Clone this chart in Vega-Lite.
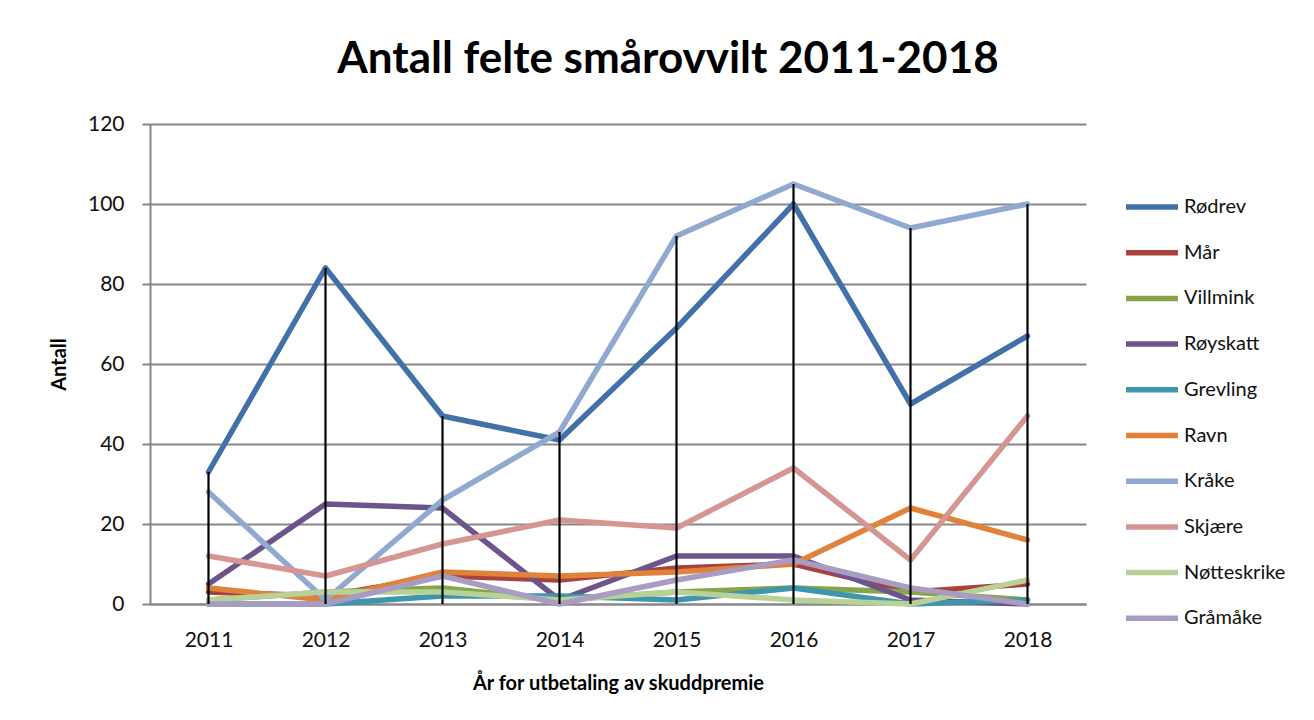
{
  "$schema": "https://vega.github.io/schema/vega-lite/v6.json",
  "autosize": "none",
  "width": 936,
  "height": 480,
  "padding": {"left": 150, "top": 124, "right": 228, "bottom": 116},
  "background": "white",
  "title": {
    "text": "Antall felte smårovvilt 2011-2018",
    "font": "Lato",
    "fontSize": 44,
    "fontWeight": "bold",
    "color": "black",
    "anchor": "middle",
    "dx": 50,
    "baseline": "alphabetic",
    "offset": -4
  },
  "data": {
    "values": [
      {"art": "Rødrev", "year": "2011", "value": 33}, {"art": "Rødrev", "year": "2012", "value": 84}, {"art": "Rødrev", "year": "2013", "value": 47}, {"art": "Rødrev", "year": "2014", "value": 41}, {"art": "Rødrev", "year": "2015", "value": 69}, {"art": "Rødrev", "year": "2016", "value": 100}, {"art": "Rødrev", "year": "2017", "value": 50}, {"art": "Rødrev", "year": "2018", "value": 67},
      {"art": "Mår", "year": "2011", "value": 3}, {"art": "Mår", "year": "2012", "value": 2}, {"art": "Mår", "year": "2013", "value": 7}, {"art": "Mår", "year": "2014", "value": 6}, {"art": "Mår", "year": "2015", "value": 9}, {"art": "Mår", "year": "2016", "value": 10}, {"art": "Mår", "year": "2017", "value": 3}, {"art": "Mår", "year": "2018", "value": 5},
      {"art": "Villmink", "year": "2011", "value": 1}, {"art": "Villmink", "year": "2012", "value": 3}, {"art": "Villmink", "year": "2013", "value": 4}, {"art": "Villmink", "year": "2014", "value": 1}, {"art": "Villmink", "year": "2015", "value": 3}, {"art": "Villmink", "year": "2016", "value": 4}, {"art": "Villmink", "year": "2017", "value": 3}, {"art": "Villmink", "year": "2018", "value": 1},
      {"art": "Røyskatt", "year": "2011", "value": 5}, {"art": "Røyskatt", "year": "2012", "value": 25}, {"art": "Røyskatt", "year": "2013", "value": 24}, {"art": "Røyskatt", "year": "2014", "value": 1}, {"art": "Røyskatt", "year": "2015", "value": 12}, {"art": "Røyskatt", "year": "2016", "value": 12}, {"art": "Røyskatt", "year": "2017", "value": 1}, {"art": "Røyskatt", "year": "2018", "value": 0},
      {"art": "Grevling", "year": "2011", "value": 0}, {"art": "Grevling", "year": "2012", "value": 0}, {"art": "Grevling", "year": "2013", "value": 2}, {"art": "Grevling", "year": "2014", "value": 2}, {"art": "Grevling", "year": "2015", "value": 1}, {"art": "Grevling", "year": "2016", "value": 4}, {"art": "Grevling", "year": "2017", "value": 0}, {"art": "Grevling", "year": "2018", "value": 1},
      {"art": "Ravn", "year": "2011", "value": 4}, {"art": "Ravn", "year": "2012", "value": 1}, {"art": "Ravn", "year": "2013", "value": 8}, {"art": "Ravn", "year": "2014", "value": 7}, {"art": "Ravn", "year": "2015", "value": 8}, {"art": "Ravn", "year": "2016", "value": 10}, {"art": "Ravn", "year": "2017", "value": 24}, {"art": "Ravn", "year": "2018", "value": 16},
      {"art": "Kråke", "year": "2011", "value": 28}, {"art": "Kråke", "year": "2012", "value": 1}, {"art": "Kråke", "year": "2013", "value": 26}, {"art": "Kråke", "year": "2014", "value": 43}, {"art": "Kråke", "year": "2015", "value": 92}, {"art": "Kråke", "year": "2016", "value": 105}, {"art": "Kråke", "year": "2017", "value": 94}, {"art": "Kråke", "year": "2018", "value": 100},
      {"art": "Skjære", "year": "2011", "value": 12}, {"art": "Skjære", "year": "2012", "value": 7}, {"art": "Skjære", "year": "2013", "value": 15}, {"art": "Skjære", "year": "2014", "value": 21}, {"art": "Skjære", "year": "2015", "value": 19}, {"art": "Skjære", "year": "2016", "value": 34}, {"art": "Skjære", "year": "2017", "value": 11}, {"art": "Skjære", "year": "2018", "value": 47},
      {"art": "Nøtteskrike", "year": "2011", "value": 1}, {"art": "Nøtteskrike", "year": "2012", "value": 3}, {"art": "Nøtteskrike", "year": "2013", "value": 3}, {"art": "Nøtteskrike", "year": "2014", "value": 1}, {"art": "Nøtteskrike", "year": "2015", "value": 3}, {"art": "Nøtteskrike", "year": "2016", "value": 1}, {"art": "Nøtteskrike", "year": "2017", "value": 0}, {"art": "Nøtteskrike", "year": "2018", "value": 6},
      {"art": "Gråmåke", "year": "2011", "value": 0}, {"art": "Gråmåke", "year": "2012", "value": 0}, {"art": "Gråmåke", "year": "2013", "value": 7}, {"art": "Gråmåke", "year": "2014", "value": 0}, {"art": "Gråmåke", "year": "2015", "value": 6}, {"art": "Gråmåke", "year": "2016", "value": 11}, {"art": "Gråmåke", "year": "2017", "value": 4}, {"art": "Gråmåke", "year": "2018", "value": 0}
    ]
  },
  "encoding": {
    "x": {
      "field": "year",
      "type": "ordinal",
      "scale": {"type": "point", "padding": 0.5},
      "axis": {
        "title": "År for utbetaling av skuddpremie",
        "labelAngle": 0,
        "ticks": false,
        "labelPadding": 25,
        "titlePadding": 23
      }
    }
  },
  "layer": [
    {
      "mark": {"type": "line", "strokeWidth": 5.5, "strokeJoin": "round", "strokeCap": "round"},
      "encoding": {
        "y": {
          "field": "value",
          "type": "quantitative",
          "scale": {"domain": [0, 120], "nice": false},
          "axis": {
            "title": "Antall",
            "values": [0, 20, 40, 60, 80, 100, 120],
            "grid": true,
            "tickSize": 8,
            "labelPadding": 18,
            "titlePadding": 18
          }
        },
        "color": {
          "field": "art",
          "type": "nominal",
          "sort": ["Rødrev", "Mår", "Villmink", "Røyskatt", "Grevling", "Ravn", "Kråke", "Skjære", "Nøtteskrike", "Gråmåke"],
          "scale": {
            "domain": ["Rødrev", "Mår", "Villmink", "Røyskatt", "Grevling", "Ravn", "Kråke", "Skjære", "Nøtteskrike", "Gråmåke"],
            "range": ["#4271aa", "#a8423f", "#86a44a", "#6e548d", "#3d96ae", "#e0823a", "#90a9d0", "#d49593", "#b8d196", "#a99bc1"]
          },
          "legend": {
            "title": null,
            "orient": "none",
            "legendX": 973,
            "legendY": 54,
            "symbolType": "stroke",
            "symbolSize": 2704,
            "symbolStrokeWidth": 5.5,
            "labelFontSize": 20,
            "labelFont": "Lato",
            "labelColor": "#111",
            "labelOffset": 3,
            "rowPadding": 5.7
          }
        }
      }
    },
    {
      "transform": [{"aggregate": [{"op": "max", "field": "value", "as": "maxv"}], "groupby": ["year"]}],
      "mark": {"type": "rule", "color": "black", "strokeWidth": 2.2},
      "encoding": {
        "y": {"field": "maxv", "type": "quantitative"},
        "y2": {"datum": 0}
      }
    }
  ],
  "config": {
    "view": {"stroke": null},
    "axis": {
      "labelFont": "Lato",
      "labelFontSize": 21,
      "labelColor": "#111",
      "titleFont": "Lato",
      "titleFontSize": 20,
      "titleFontWeight": "bold",
      "titleColor": "black",
      "domainColor": "#878787",
      "domainWidth": 2,
      "tickColor": "#878787",
      "tickWidth": 2,
      "gridColor": "#878787",
      "gridWidth": 2,
      "gridOpacity": 1
    }
  }
}
